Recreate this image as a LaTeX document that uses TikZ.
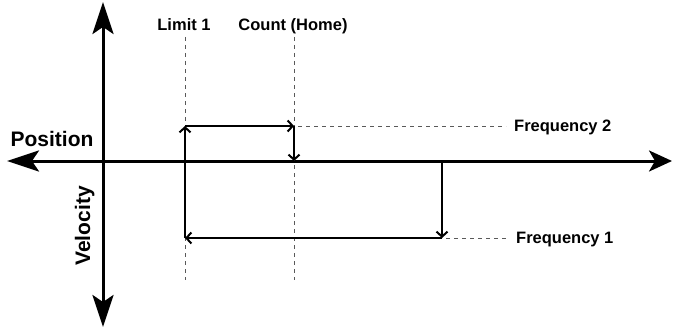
\documentclass[tikz,border=0pt]{standalone}
\usepackage{fontspec}
\setmainfont{Liberation Sans}
\usetikzlibrary{arrows.meta}
\begin{document}
\begin{tikzpicture}[x=1pt,y=-1pt,
  bighead/.style={line width=3pt,-{Stealth[length=32pt,width=21pt,inset=7pt]}},
  righthead/.style={line width=3pt,-{Stealth[length=23pt,width=21pt,inset=6pt]}},
  move/.style={line width=2pt,-{Straight Barb[length=5pt,width=11pt,line width=2pt]}},
  guide/.style={draw=black!65, line width=1pt, dash pattern=on 4pt off 4pt},
  lbl/.style={font=\bfseries\fontsize{16.5}{18}\selectfont, inner sep=0pt},
  big/.style={font=\bfseries\fontsize{21}{24}\selectfont, inner sep=0pt}]
\useasboundingbox (0,0) rectangle (674,329);
% axes
\coordinate (O) at (103,161);
\coordinate (L) at (7,161);
\coordinate (R) at (672,161);
\coordinate (T) at (103,2);
\coordinate (B) at (103,327);
\draw[bighead] (O) -- (L);
\draw[righthead] (O) -- (R);
\draw[bighead] (O) -- (T);
\draw[bighead] (O) -- (B);
% guide lines
\coordinate (l1t) at (185,37);
\coordinate (l1b) at (185,280);
\coordinate (cht) at (294,37);
\coordinate (chb) at (294,280);
\draw[guide] (l1t) -- (l1b);
\draw[guide] (cht) -- (chb);
% path corners
\coordinate (a) at (185,126);
\coordinate (b) at (294,126);
\coordinate (c) at (294,161);
\coordinate (d) at (442,161);
\coordinate (e) at (442,238);
\coordinate (f) at (185,238);
\node[lbl, anchor=base west] (f2) at (514,131) {Frequency 2};
\node[lbl, anchor=base west] (f1) at (516,243) {Frequency 1};
\coordinate (g2s) at (298,126);
\coordinate (g2e) at (506,126);
\coordinate (g1s) at (446,238);
\coordinate (g1e) at (508,238);
\draw[guide] (g2s) -- (g2e);
\draw[guide] (g1s) -- (g1e);
\draw[move] (f) -- (a);
\draw[move] (a) -- (b);
\draw[move] (b) -- (c);
\draw[move] (d) -- (e);
\draw[move] (e) -- (f);
% labels
\node[lbl, anchor=base] (lim) at (184,31) {Limit 1};
\node[lbl, anchor=base] (cnt) at (293,31) {Count (Home)};
\node[big, anchor=base] (pos) at (52,146) {Position};
\node[big, anchor=base, rotate=90] (vel) at (90,226) {Velocity};
\end{tikzpicture}
\end{document}
